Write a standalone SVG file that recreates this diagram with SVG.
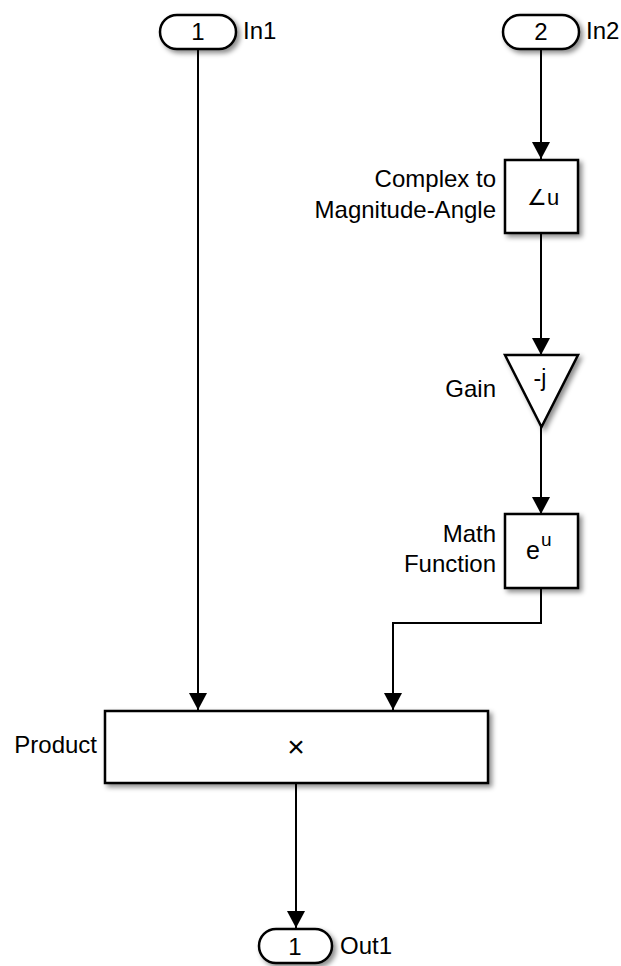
<svg xmlns="http://www.w3.org/2000/svg" width="621" height="966" viewBox="0 0 621 966">
<style>
  text { font-family: "Liberation Sans", Arial, sans-serif; font-size: 24px; fill: #000; }
  .lbl { text-anchor: end; }
  .mid { text-anchor: middle; }
  .blk { fill: #fff; stroke: #000; stroke-width: 2.5; filter: url(#sh); }
  .wire { fill: none; stroke: #000; stroke-width: 2; marker-end: url(#arr); }
</style>
<defs>
  <filter id="sh" x="-20%" y="-20%" width="150%" height="150%">
    <feDropShadow dx="3" dy="3" stdDeviation="2.5" flood-color="#000" flood-opacity="0.45"/>
  </filter>
  <marker id="arr" viewBox="0 0 17 18" refX="17" refY="9" markerWidth="17" markerHeight="18" markerUnits="userSpaceOnUse" orient="auto">
    <path d="M0,0 L17,9 L0,18 z" fill="#000"/>
  </marker>
</defs>
<rect width="621" height="966" fill="#fff"/>
<g id="connectors">
  <path class="wire" d="M198,49 V710"/>
  <path class="wire" d="M541,48 V159"/>
  <path class="wire" d="M541,233 V355"/>
  <path class="wire" d="M541,427 V514"/>
  <path class="wire" d="M541,588 V623 H393 V710"/>
  <path class="wire" d="M296,783 V928"/>
</g>
<g id="In1">
  <rect class="blk" x="160" y="15" width="76" height="34" rx="17" ry="17"/>
  <text class="mid" x="198" y="40">1</text>
  <text x="243" y="39">In1</text>
</g>
<g id="In2">
  <rect class="blk" x="503" y="15" width="76" height="34" rx="17" ry="17"/>
  <text class="mid" x="541" y="40">2</text>
  <text x="586" y="39">In2</text>
</g>
<g id="ComplexToMagnitudeAngle">
  <rect class="blk" x="505" y="160" width="73" height="73"/>
  <text class="mid" x="543" y="205" style="font-size:22px">∠u</text>
  <text class="lbl" x="496" y="187">Complex to</text>
  <text class="lbl" x="496" y="218">Magnitude-Angle</text>
</g>
<g id="Gain">
  <polygon class="blk" points="505,355 578,355 541.5,427"/>
  <text class="mid" x="540" y="386" style="font-size:23px">-j</text>
  <text class="lbl" x="496" y="397">Gain</text>
</g>
<g id="MathFunction">
  <rect class="blk" x="505" y="514" width="73" height="74"/>
  <text x="526" y="559" style="font-size:25px">e</text>
  <text x="541" y="546" style="font-size:19px">u</text>
  <text class="lbl" x="496" y="542">Math</text>
  <text class="lbl" x="496" y="572">Function</text>
</g>
<g id="Product">
  <rect class="blk" x="105" y="711" width="383" height="72"/>
  <text class="mid" x="296" y="757" style="font-size:30px">×</text>
  <text class="lbl" x="97" y="753">Product</text>
</g>
<g id="Out1">
  <rect class="blk" x="259" y="929" width="73" height="34" rx="17" ry="17"/>
  <text class="mid" x="295" y="955">1</text>
  <text x="340" y="954">Out1</text>
</g>
</svg>
